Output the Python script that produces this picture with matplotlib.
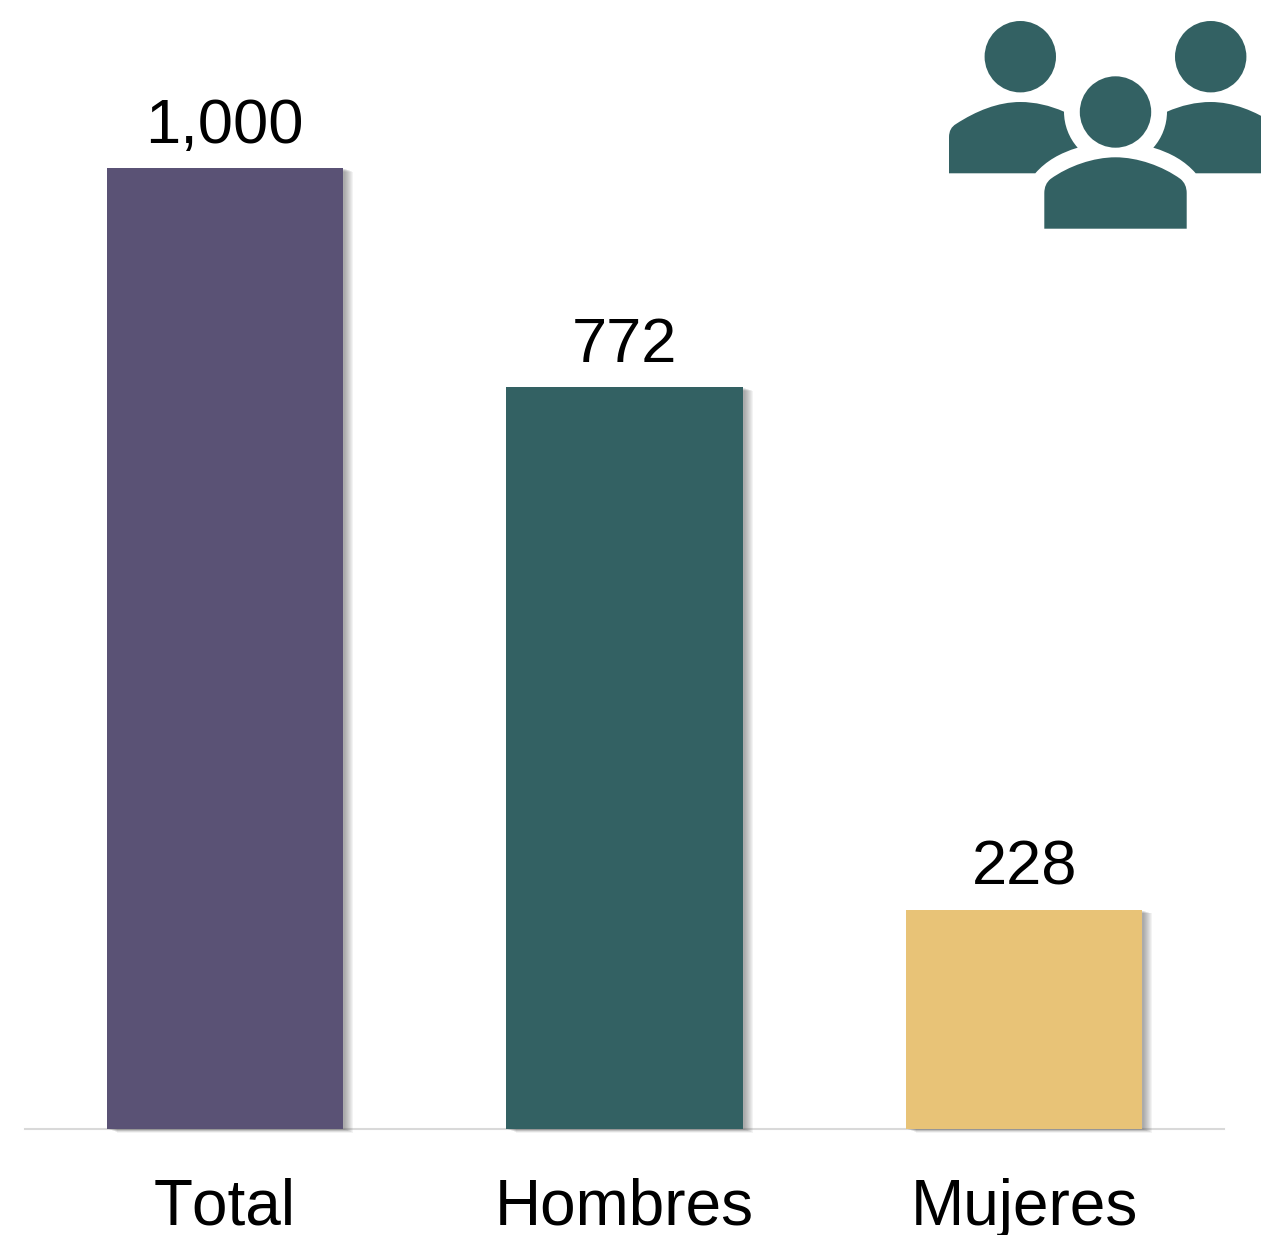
import matplotlib
matplotlib.use("Agg")
import matplotlib.patheffects as pe
import matplotlib.pyplot as plt
from matplotlib.patches import Circle, PathPatch
from matplotlib.path import Path

plt.rcParams["font.family"] = ["Liberation Sans", "DejaVu Sans"]
plt.rcParams["text.kerning_factor"] = 20  # reference text has no kerning

categories = ["Total", "Hombres", "Mujeres"]
values = [1000, 772, 228]
colors = ["#5A5275", "#336163", "#E8C377"]
icon_color = "#336163"

W, H = 1261, 1235
PX = 72 / 100  # points per pixel at dpi 100


def bar_shadow():
    # stacked soft layers to imitate the blurred drop shadow
    effects = []
    for off in range(10, 1, -1):
        effects.append(pe.SimplePatchShadow(offset=(off * PX, -off * 0.35 * PX),
                                            shadow_rgbFace="#404040", alpha=0.06, rho=1))
    effects.append(pe.Normal())
    return effects


def person_body(cx):
    # front figure, rounded shoulders
    verts = [(cx - 71.2, 228.7), (cx - 71.2, 193), (cx - 71.2, 184), (cx - 65, 179),
             (cx - 47, 166), (cx - 22, 157.3), (cx, 157.3),
             (cx + 22, 157.3), (cx + 47, 166), (cx + 65, 179),
             (cx + 71.2, 184), (cx + 71.2, 193), (cx + 71.2, 228.7), (cx - 71.2, 228.7)]
    codes = [Path.MOVETO, Path.LINETO, Path.CURVE3, Path.CURVE3,
             Path.CURVE4, Path.CURVE4, Path.CURVE4,
             Path.CURVE4, Path.CURVE4, Path.CURVE4,
             Path.CURVE3, Path.CURVE3, Path.LINETO, Path.CLOSEPOLY]
    return Path(verts, codes)


def back_body(mirror_about=None):
    verts = [(949, 173.3), (949, 137), (949, 128), (956, 124),
             (976, 111), (998, 102), (1020.3, 102),
             (1035, 102), (1050, 105.5), (1064, 111.7),
             (1064, 125), (1069, 138), (1077.7, 147.7),
             (1060, 153), (1046, 161), (1035.3, 173.3), (949, 173.3)]
    codes = [Path.MOVETO, Path.LINETO, Path.CURVE3, Path.CURVE3,
             Path.CURVE4, Path.CURVE4, Path.CURVE4,
             Path.CURVE4, Path.CURVE4, Path.CURVE4,
             Path.CURVE4, Path.CURVE4, Path.CURVE4,
             Path.CURVE4, Path.CURVE4, Path.CURVE4, Path.CLOSEPOLY]
    if mirror_about is not None:
        verts = [(2 * mirror_about - x, y) for x, y in verts]
    return Path(verts, codes)


def draw_icon(fig):
    ax = fig.add_axes([0, 0, 1, 1], facecolor="none")
    ax.set_xlim(0, W)
    ax.set_ylim(H, 0)
    ax.axis("off")
    for cx, cy in [(1020.3, 56.7), (1210.7, 56.7), (1115.5, 112)]:
        ax.add_patch(Circle((cx, cy), 35.7, fc=icon_color, ec="none"))
    ax.add_patch(PathPatch(back_body(), fc=icon_color, ec="none"))
    ax.add_patch(PathPatch(back_body(1115.5), fc=icon_color, ec="none"))
    ax.add_patch(PathPatch(person_body(1115.5), fc=icon_color, ec="none"))


def main():
    fig = plt.figure(figsize=(W / 100, H / 100), dpi=100, facecolor="white")
    ax = fig.add_axes([25 / W, (H - 1129) / H, 1199 / W, 1129 / H])

    bars = ax.bar(range(len(categories)), values, width=0.591, color=colors, zorder=3, clip_on=False)
    for rect, val in zip(bars, values):
        rect.set_path_effects(bar_shadow())
        ax.annotate(f"{val:,}", (rect.get_x() + rect.get_width() / 2, val), xytext=(0, 18.3),
                    textcoords="offset points", ha="center", va="baseline", fontsize=45.5, color="black")

    ax.set_xlim(-0.5, 2.5)
    ax.set_ylim(0, 1129 / 0.961)
    ax.set_xticks(range(len(categories)))
    ax.set_xticklabels(categories, fontsize=46, color="black")
    ax.set_yticks([])
    ax.tick_params(axis="x", length=0, pad=35)
    for side in ["top", "left", "right"]:
        ax.spines[side].set_visible(False)
    ax.spines["bottom"].set_color("#D9D9D9")
    ax.spines["bottom"].set_linewidth(1.5)

    draw_icon(fig)
    fig.savefig("out.png", dpi=100)
    plt.close(fig)


if __name__ == "__main__":
    main()
